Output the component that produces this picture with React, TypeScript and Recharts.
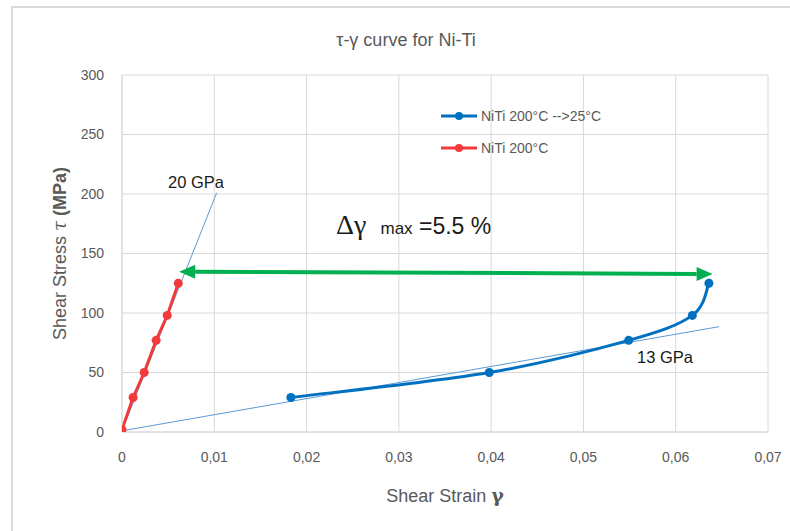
import React from 'react';
import { LineChart, Line, XAxis, YAxis, CartesianGrid, ReferenceLine, ReferenceDot } from 'recharts';

// ---- data ----
const redStrain = [0, 0.0012, 0.0024, 0.0037, 0.0049, 0.0061];
const redStress = [2, 29, 50, 77, 98, 125];
const blueStrain = [0.0183, 0.0398, 0.0549, 0.0618, 0.0636];
const blueStress = [29, 50, 77, 98, 125];
const xTicks = [0, 0.01, 0.02, 0.03, 0.04, 0.05, 0.06, 0.07];
const yTicks = [0, 50, 100, 150, 200, 250, 300];
const trend20Strain = [0, 0.01026];
const trend20Stress = [1, 201];
const trend13Strain = [0, 0.0647];
const trend13Stress = [1, 88.5];
const arrowStrain = [0.0062, 0.064];
const arrowStress = [134.7, 132.8];
const seriesNames = ['NiTi 200°C -->25°C', 'NiTi 200°C'];

const redData = redStrain.map((x, i) => ({ x, y: redStress[i] }));
const blueData = blueStrain.map((x, i) => ({ x, y: blueStress[i] }));

const BLUE = '#0070C0';
const RED = '#F23A3A';
const TREND = '#5B9BD5';
const GREEN = '#00B050';
const GRID = '#D9D9D9';
const GRAY = '#595959';
const FONT = '"Liberation Sans", Arial, sans-serif';

const fmtX = (v: number) => (v === 0 ? '0' : v.toFixed(2).replace('.', ','));

// Excel-like smoothed line (Catmull-Rom style Bezier)
const smoothCurve = (context: any) => {
  let pts: number[][] = [];
  return {
    areaStart() {},
    areaEnd() {},
    lineStart() {
      pts = [];
    },
    point(x: number, y: number) {
      pts.push([+x, +y]);
    },
    lineEnd() {
      const n = pts.length;
      if (!n) return;
      context.moveTo(pts[0][0], pts[0][1]);
      for (let i = 0; i < n - 1; i++) {
        const p0 = pts[i - 1] || pts[i];
        const p1 = pts[i];
        const p2 = pts[i + 1];
        const p3 = pts[i + 2] || pts[i + 1];
        const c1x = p1[0] + (p2[0] - p0[0]) / 6;
        const c1y = p1[1] + (p2[1] - p0[1]) / 6;
        const c2x = p2[0] - (p3[0] - p1[0]) / 6;
        const c2y = p2[1] - (p3[1] - p1[1]) / 6;
        context.bezierCurveTo(c1x, c1y, c2x, c2y, p2[0], p2[1]);
      }
    },
  };
};

const ArrowShape = (props: any) => {
  const { x1, y1, x2, y2 } = props;
  if (x1 == null) return null;
  const head = 16;
  const half = 7;
  const dx = x2 - x1;
  const dy = y2 - y1;
  const len = Math.sqrt(dx * dx + dy * dy);
  const ux = dx / len;
  const uy = dy / len;
  const px = -uy;
  const py = ux;
  const ax = x1 + ux * head;
  const ay = y1 + uy * head;
  const bx = x2 - ux * head;
  const by = y2 - uy * head;
  return (
    <g>
      <line x1={ax} y1={ay} x2={bx} y2={by} stroke={GREEN} strokeWidth={4} />
      <polygon
        points={`${x1},${y1} ${ax + px * half},${ay + py * half} ${ax - px * half},${ay - py * half}`}
        fill={GREEN}
      />
      <polygon
        points={`${x2},${y2} ${bx + px * half},${by + py * half} ${bx - px * half},${by - py * half}`}
        fill={GREEN}
      />
    </g>
  );
};

const textShape = (content: React.ReactNode) => (props: any) => {
  const { cx, cy } = props;
  if (cx == null) return null;
  return (
    <text x={cx} y={cy} fill="#1a1a1a" fontFamily={FONT}>
      {content}
    </text>
  );
};

const LegendBox = () => {
  const colors = [BLUE, RED];
  return (
    <div style={{ position: 'absolute', left: 440, top: 108, fontFamily: FONT, fontSize: 14, color: GRAY }}>
      {seriesNames.map((n, i) => (
        <div key={n} style={{ display: 'flex', alignItems: 'center', height: 16, marginBottom: 16 }}>
          <svg width={38} height={12} style={{ marginRight: 3 }}>
            <line x1={1} y1={6} x2={37} y2={6} stroke={colors[i]} strokeWidth={3} />
            <circle cx={19} cy={6} r={4} fill={colors[i]} />
          </svg>
          <span>{n}</span>
        </div>
      ))}
    </div>
  );
};

const YLabel = (props: any) => {
  const vb = props.viewBox || {};
  const cy = (vb.y ?? 75) + (vb.height ?? 357) / 2;
  const x = 66;
  return (
    <text
      x={x}
      y={cy}
      transform={`rotate(-90 ${x} ${cy})`}
      textAnchor="middle"
      fill={GRAY}
      fontFamily={FONT}
      fontSize={18}
    >
      <tspan>Shear Stress </tspan>
      <tspan fontStyle="italic" fontFamily='"DejaVu Serif", serif'>τ</tspan>
      <tspan fontWeight="bold"> (MPa)</tspan>
    </text>
  );
};

const XLabel = (props: any) => {
  const vb = props.viewBox || {};
  const cx = (vb.x ?? 122) + (vb.width ?? 646) / 2;
  return (
    <text x={cx} y={502} textAnchor="middle" fill={GRAY} fontFamily={FONT} fontSize={18}>
      <tspan>Shear Strain </tspan>
      <tspan fontWeight="bold" fontFamily='"DejaVu Serif", serif' fontSize={19}>γ</tspan>
    </text>
  );
};

export default function App() {
  return (
    <div style={{ position: 'absolute', left: 0, top: 0, width: 790, height: 531, overflow: 'hidden', background: '#fff' }}>
      <div
        style={{
          position: 'absolute',
          left: 11,
          top: 6,
          width: 800,
          height: 560,
          border: `2px solid ${GRID}`,
          boxSizing: 'border-box',
        }}
      />
      <div
        style={{
          position: 'absolute',
          left: 0,
          width: 812,
          top: 30,
          textAlign: 'center',
          fontFamily: FONT,
          fontSize: 18,
          color: GRAY,
        }}
      >
        τ-γ curve for Ni-Ti
      </div>
      <LineChart
        width={790}
        height={531}
        margin={{ top: 75, right: 22, bottom: 39, left: 0 }}
        style={{ position: 'absolute', left: 0, top: 0 }}
      >
        <CartesianGrid stroke={GRID} strokeWidth={1} />
        <XAxis
          type="number"
          dataKey="x"
          domain={[0, 0.07]}
          ticks={xTicks}
          tickFormatter={fmtX}
          allowDataOverflow
          height={60}
          tickLine={false}
          axisLine={{ stroke: GRID }}
          tickMargin={14}
          tick={{ fill: GRAY, fontSize: 14, fontFamily: FONT }}
          label={<XLabel />}
        />
        <YAxis
          type="number"
          dataKey="y"
          domain={[0, 300]}
          ticks={yTicks}
          allowDataOverflow
          width={122}
          tickLine={false}
          axisLine={{ stroke: GRID }}
          tickMargin={12}
          tick={{ fill: GRAY, fontSize: 14, fontFamily: FONT }}
          label={<YLabel />}
        />
        <ReferenceLine
          segment={[
            { x: trend20Strain[0], y: trend20Stress[0] },
            { x: trend20Strain[1], y: trend20Stress[1] },
          ]}
          stroke={TREND}
          strokeWidth={1}
        />
        <ReferenceLine
          segment={[
            { x: trend13Strain[0], y: trend13Stress[0] },
            { x: trend13Strain[1], y: trend13Stress[1] },
          ]}
          stroke={TREND}
          strokeWidth={1}
        />
        <Line
          data={blueData}
          dataKey="y"
          name={seriesNames[0]}
          type={smoothCurve as any}
          stroke={BLUE}
          strokeWidth={3}
          dot={{ r: 4.5, fill: BLUE, stroke: BLUE, strokeWidth: 0 }}
          isAnimationActive={false}
        />
        <Line
          data={redData}
          dataKey="y"
          name={seriesNames[1]}
          type="linear"
          stroke={RED}
          strokeWidth={3}
          dot={{ r: 4.5, fill: RED, stroke: RED, strokeWidth: 0 }}
          isAnimationActive={false}
        />
        <ReferenceLine
          segment={[
            { x: arrowStrain[0], y: arrowStress[0] },
            { x: arrowStrain[1], y: arrowStress[1] },
          ]}
          shape={ArrowShape}
        />
        <ReferenceDot
          x={0.00498}
          y={205}
          shape={textShape(<tspan fontSize={16.5}>20 GPa</tspan>)}
        />
        <ReferenceDot
          x={0.0558}
          y={58}
          shape={textShape(<tspan fontSize={16.5}>13 GPa</tspan>)}
        />
        <ReferenceDot
          x={0.0232}
          y={166.4}
          shape={textShape(
            <>
              <tspan fontFamily='"Liberation Serif", serif' fontSize={28}>Δγ</tspan>
              <tspan fontSize={17} dx={14}>max</tspan>
              <tspan fontSize={23}> =5.5 %</tspan>
            </>
          )}
        />
      </LineChart>
      <LegendBox />
    </div>
  );
}
